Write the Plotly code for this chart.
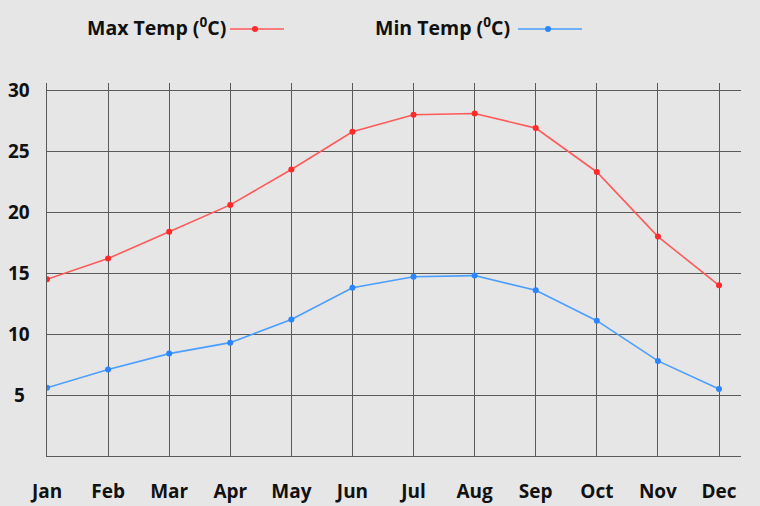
import plotly.graph_objects as go

months = ["Jan", "Feb", "Mar", "Apr", "May", "Jun", "Jul", "Aug", "Sep", "Oct", "Nov", "Dec"]
max_temp = [14.5, 16.2, 18.4, 20.6, 23.5, 26.6, 28.0, 28.1, 26.9, 23.3, 18.0, 14.0]
min_temp = [5.6, 7.1, 8.4, 9.3, 11.2, 13.8, 14.7, 14.8, 13.6, 11.1, 7.8, 5.5]
y_ticks = [5, 10, 15, 20, 25, 30]

RED_LINE = "#ff5a5a"
RED_MK = "#ff2a2a"
BLUE_LINE = "#4a9eff"
BLUE_MK = "#2a86ff"
BG = "#e6e6e6"
GRID = "#5a5a5a"
TXT = "#111111"
FONT = "Open Sans"

W, H = 760, 506
ML, MR, MT, MB = 47, 19, 83, 50
PW, PH = W - ML - MR, H - MT - MB

def px(x):
    return (x - ML) / PW

def py(y):
    return (H - MB - y) / PH

xs = list(range(len(months)))

fig = go.Figure()
fig.add_trace(go.Scatter(x=xs, y=max_temp, mode="lines+markers", name="Max Temp",
                         line=dict(color=RED_LINE, width=1.6),
                         marker=dict(color=RED_MK, size=6), showlegend=False))
fig.add_trace(go.Scatter(x=xs, y=min_temp, mode="lines+markers", name="Min Temp",
                         line=dict(color=BLUE_LINE, width=1.6),
                         marker=dict(color=BLUE_MK, size=6), showlegend=False))

# custom legend: text followed by line sample
legend_items = [
    ("Max Temp (<sup>0</sup>C)", 228, 230, 284, 255, RED_LINE, RED_MK),
    ("Min Temp (<sup>0</sup>C)", 512, 518, 582, 548, BLUE_LINE, BLUE_MK),
]
ly_text = 27
ly_line = 29
for text, tx, x0, x1, mx, lc, mc in legend_items:
    fig.add_annotation(x=px(tx), y=py(ly_text), xref="paper", yref="paper", text=text,
                       showarrow=False, xanchor="right", yanchor="middle",
                       font=dict(family=FONT, size=19.5, color=TXT, weight="bold"))
    fig.add_shape(type="line", xref="paper", yref="paper", x0=px(x0), x1=px(x1),
                  y0=py(ly_line), y1=py(ly_line), line=dict(color=lc, width=1.6))
    fig.add_shape(type="circle", xref="paper", yref="paper", x0=px(mx - 3), x1=px(mx + 3),
                  y0=py(ly_line + 3), y1=py(ly_line - 3), fillcolor=mc, line=dict(width=0))

# y tick labels, centred in the left margin
for v in y_ticks:
    fig.add_annotation(x=px(19), y=v, xref="paper", yref="y", text=str(v),
                       showarrow=False, xanchor="center", yanchor="middle",
                       font=dict(family=FONT, size=19, color=TXT, weight="bold"))

fig.update_layout(
    width=W, height=H,
    margin=dict(l=ML, r=MR, t=MT, b=MB, autoexpand=False),
    paper_bgcolor=BG, plot_bgcolor=BG,
    font=dict(family=FONT, size=19, color=TXT),
)
fig.update_xaxes(range=[0, 11.36], tickmode="array", tickvals=xs, ticktext=months,
                 showgrid=True, gridcolor=GRID, gridwidth=1, zeroline=False,
                 showline=True, linecolor=GRID, linewidth=1, automargin=False,
                 tickfont=dict(family=FONT, size=19, color=TXT, weight="bold"),
                 ticks="", ticklabelstandoff=18)
fig.update_yaxes(range=[0, 30.6], tickmode="array", tickvals=y_ticks,
                 showticklabels=False, automargin=False,
                 showgrid=True, gridcolor=GRID, gridwidth=1, zeroline=False,
                 showline=True, linecolor=GRID, linewidth=1, ticks="")

fig.write_html("out.html", config={"displayModeBar": False},
               post_script="document.body.style.margin='0';document.body.style.padding='0';")
